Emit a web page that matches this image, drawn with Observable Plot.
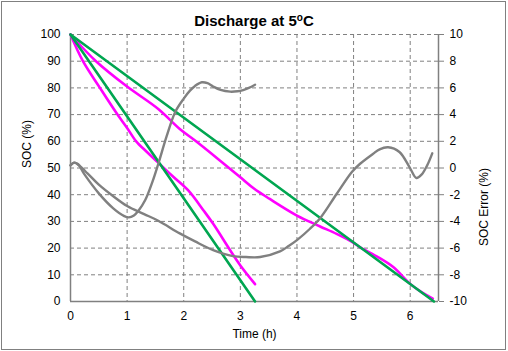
<!DOCTYPE html>
<html>
<head>
<meta charset="utf-8">
<script src="https://cdn.jsdelivr.net/npm/d3@7"></script>
<script src="https://cdn.jsdelivr.net/npm/@observablehq/plot@0.6"></script>
<style>
  html, body { margin: 0; padding: 0; background: #fff; }
  #wrap { position: relative; width: 508px; height: 351px; font-family: "Liberation Sans", Arial, sans-serif; }
  #border { position: absolute; left: 1px; top: 1px; width: 505px; height: 349px; box-sizing: border-box; border: 1px solid #808080; pointer-events: none; }
  #title { position: absolute; left: 0; top: 13px; width: 508px; text-align: center; font-size: 15px; line-height: 15px; font-weight: bold; color: #000; }
  #title sup { font-size: 10px; line-height: 0; vertical-align: 5px; }
  #chart { position: absolute; left: 0; top: 0; }
</style>
</head>
<body>
<div id="wrap">
  <div id="chart"></div>
  <div id="title">Discharge at 5<sup>o</sup>C</div>
  <div id="border"></div>
</div>
<script>
// ---- Data ----
const xTicks = [0, 1, 2, 3, 4, 5, 6];
const yTicks = [0, 10, 20, 30, 40, 50, 60, 70, 80, 90, 100];
const errTicks = [-10, -8, -6, -4, -2, 0, 2, 4, 6, 8, 10];

// Green (reference SOC) lines
const greenFastT = [0, 3.26];
const greenFastSOC = [100, 0];
const greenSlowT = [0, 6.42];
const greenSlowSOC = [100, 0];

// Magenta (estimated SOC) curves
const magFastT = [0, 0.22, 0.52, 0.83, 1.0, 1.16, 1.35, 1.55, 1.8, 2.08, 2.35, 2.52, 2.82, 3.0, 3.26];
const magFastSOC = [100, 90, 80, 70, 65, 60, 56, 52, 47, 41.6, 34.1, 29.1, 19.2, 13.5, 6.5];
const magSlowT = [0, 0.45, 1.0, 1.55, 1.93, 2.2, 2.6, 3.0, 3.24, 3.52, 4.0, 4.4, 4.7, 5.0, 5.11, 5.4, 5.7, 6.0, 6.2, 6.4];
const magSlowSOC = [100, 90, 80.5, 72.1, 64.6, 60.3, 53.5, 46.5, 42.3, 38.4, 32.2, 28.2, 25.3, 22, 20.4, 17, 12.9, 6.6, 3.5, 1.1];

// Gray (SOC error, right axis) curves
const errFastT = [0, 0.06, 0.13, 0.25, 0.5, 0.75, 0.95, 1.03, 1.12, 1.2, 1.32, 1.45, 1.55, 1.7, 1.85, 2.0, 2.11, 2.2, 2.32, 2.42, 2.52, 2.65, 2.82, 2.95, 3.05, 3.15, 3.26];
const errFast = [0.2, 0.4, 0.3, -0.5, -1.9, -3.0, -3.6, -3.7, -3.55, -3.2, -2.4, -1.0, 0.3, 2.4, 4.2, 5.2, 5.8, 6.15, 6.42, 6.35, 6.1, 5.85, 5.72, 5.75, 5.84, 6.0, 6.24];
const errSlowT = [0, 0.07, 0.15, 0.3, 0.5, 0.75, 1.0, 1.3, 1.55, 1.93, 2.2, 2.52, 2.87, 3.1, 3.35, 3.7, 3.85, 4.0, 4.23, 4.42, 4.7, 4.97, 5.11, 5.34, 5.46, 5.61, 5.81, 5.99, 6.11, 6.2, 6.3, 6.39];
const errSlow = [0.2, 0.4, 0.2, -0.4, -1.25, -2.1, -2.85, -3.45, -3.95, -4.9, -5.5, -6.15, -6.6, -6.67, -6.67, -6.25, -5.85, -5.4, -4.55, -3.7, -1.95, -0.3, 0.3, 1.05, 1.4, 1.55, 1.2, 0.05, -0.75, -0.5, 0.2, 1.1];

// map error (-10..10) onto the SOC scale (0..100) for the secondary axis
const errToSoc = e => (e + 10) * 5;
const socToErr = s => s / 5 - 10;

const GREEN = "#00A650", MAGENTA = "#FF00FF", GRAY = "#808080";

const chart = Plot.plot({
  width: 508,
  height: 351,
  marginLeft: 70,
  marginRight: 70,
  marginTop: 34,
  marginBottom: 50,
  style: { fontFamily: "'Liberation Sans', Arial, sans-serif", fontSize: "12px", color: "#000", background: "transparent" },
  x: { domain: [0, 6.5] },
  y: { domain: [0, 100] },
  marks: [
    Plot.gridX(xTicks.filter(d => d > 0), { stroke: GRAY, strokeOpacity: 1, strokeDasharray: "4,3" }),
    Plot.gridY(yTicks.filter(d => d > 0), { stroke: GRAY, strokeOpacity: 1, strokeDasharray: "4,3" }),
    Plot.ruleX([0, 6.5], { stroke: GRAY, strokeWidth: 1.5 }),
    Plot.ruleY([0], { stroke: GRAY, strokeWidth: 1.5 }),
    Plot.axisX(xTicks, { tickSize: 0, tickPadding: 10, label: null, tickFormat: d => String(d) }),
    Plot.axisY(yTicks, { anchor: "left", tickSize: 0, tickPadding: 10, label: null, tickFormat: d => String(d) }),
    Plot.axisY(errTicks.map(errToSoc), { anchor: "right", tickSize: 5, tickPadding: 6, stroke: GRAY, label: null, tickFormat: d => String(Math.round(socToErr(d))) }),
    Plot.text(["SOC (%)"], { text: d => d, frameAnchor: "left", dx: -43, rotate: -90, fill: "#000" }),
    Plot.text(["SOC Error (%)"], { text: d => d, frameAnchor: "right", dx: 46, rotate: -90, fill: "#000" }),
    Plot.text(["Time (h)"], { text: d => d, frameAnchor: "bottom", dy: 36, fill: "#000" }),
    Plot.line(magSlowSOC, { x: magSlowT, y: magSlowSOC, stroke: MAGENTA, strokeWidth: 2.6, curve: "catmull-rom" }),
    Plot.line(magFastSOC, { x: magFastT, y: magFastSOC, stroke: MAGENTA, strokeWidth: 2.6, curve: "catmull-rom" }),
    Plot.line(greenSlowSOC, { x: greenSlowT, y: greenSlowSOC, stroke: GREEN, strokeWidth: 2.6 }),
    Plot.line(greenFastSOC, { x: greenFastT, y: greenFastSOC, stroke: GREEN, strokeWidth: 2.6 }),
    Plot.line(errFast, { x: errFastT, y: errFast.map(errToSoc), stroke: GRAY, strokeWidth: 2.4, curve: "catmull-rom" }),
    Plot.line(errSlow, { x: errSlowT, y: errSlow.map(errToSoc), stroke: GRAY, strokeWidth: 2.4, curve: "catmull-rom" })
  ]
});
document.getElementById("chart").appendChild(chart);
</script>
</body>
</html>
